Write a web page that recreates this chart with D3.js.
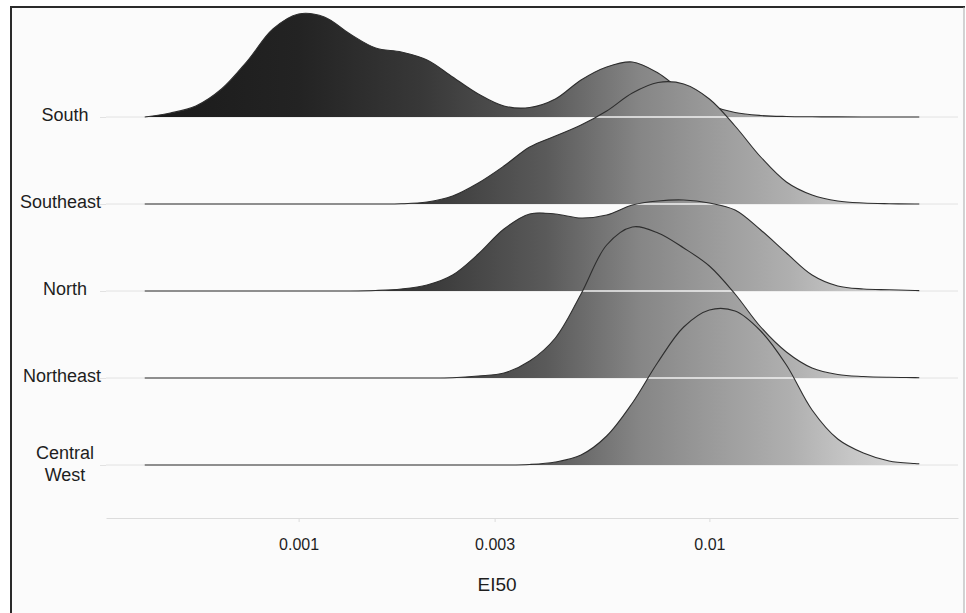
<!DOCTYPE html>
<html>
<head>
<meta charset="utf-8">
<script src="https://cdnjs.cloudflare.com/ajax/libs/d3/7.8.5/d3.min.js"></script>
<style>
	body { margin: 0; background: #ffffff; }
	text { font-family: "Liberation Sans", Arial, sans-serif; fill: #1e1e1e; }
</style>
</head>
<body>
<div id="chart-area"></div>
<script>
const WIDTH = 966
const HEIGHT = 613
const PANEL = { LEFT: 106, RIGHT: 958, BOTTOM: 518 }

// Regions, top to bottom
const regions = ["South", "Southeast", "North", "Northeast", "Central West"]

// EI50 grid the ridges are drawn on
const ei50 = [0.000422, 0.000487, 0.000562, 0.000649, 0.000750, 0.000866, 0.001000, 0.001155,
	0.001334, 0.001540, 0.001778, 0.002054, 0.002371, 0.002738, 0.003162, 0.003652,
	0.004217, 0.004870, 0.005623, 0.006494, 0.007499, 0.008660, 0.010000, 0.011548,
	0.013335, 0.015399, 0.017783, 0.020535, 0.023714, 0.027384, 0.031623, 0.032434]

// density heights (one value per ei50 point)
const south = [0, 0.04, 0.11, 0.28, 0.56, 0.88, 1.03, 1.00, 0.83, 0.69, 0.65, 0.57, 0.40, 0.23, 0.11, 0.095,
	0.18, 0.37, 0.50, 0.55, 0.44, 0.25, 0.12, 0.045, 0.015, 0.005, 0.002, 0.001, 0, 0, 0, 0]
const southeast = [0, 0, 0, 0, 0, 0, 0, 0, 0, 0, 0.002, 0.02, 0.08, 0.21, 0.38, 0.57,
	0.68, 0.79, 0.93, 1.11, 1.215, 1.20, 1.05, 0.78, 0.47, 0.22, 0.09, 0.03, 0.01, 0.003, 0, 0]
const north = [0, 0, 0, 0, 0, 0, 0, 0, 0, 0.005, 0.02, 0.06, 0.16, 0.37, 0.62, 0.77,
	0.77, 0.73, 0.76, 0.86, 0.90, 0.91, 0.88, 0.81, 0.61, 0.38, 0.16, 0.05, 0.02, 0.012, 0.005, 0.004]
const northeast = [0, 0, 0, 0, 0, 0, 0, 0, 0, 0, 0, 0, 0.003, 0.02, 0.05, 0.17,
	0.40, 0.84, 1.33, 1.51, 1.45, 1.30, 1.12, 0.84, 0.51, 0.26, 0.10, 0.035, 0.015, 0.007, 0.004, 0.003]
const centralWest = [0, 0, 0, 0, 0, 0, 0, 0, 0, 0, 0, 0, 0, 0, 0, 0.005,
	0.03, 0.10, 0.29, 0.62, 1.03, 1.38, 1.55, 1.54, 1.34, 1.00, 0.55, 0.26, 0.12, 0.04, 0.015, 0.012]
const densities = [south, southeast, north, northeast, centralWest]

const tickValues = [0.001, 0.003, 0.01]
const tickLabels = ["0.001", "0.003", "0.01"]

// Fill shade along EI50
const fillStops = [0.00042, 0.001, 0.002, 0.004, 0.0068, 0.01, 0.0157, 0.022, 0.0325]
const fillShades = ["#1a1a1a", "#232323", "#383838", "#5a5a5a", "#868686", "#9a9a9a", "#afafaf", "#c6c6c6", "#dadada"]

const svg = d3.select("#chart-area").append("svg")
	.attr("width", WIDTH)
	.attr("height", HEIGHT)

// Frame
svg.append("rect")
	.attr("x", 11).attr("y", 7)
	.attr("width", 953).attr("height", 620)
	.attr("fill", "#fbfbfb")
svg.append("line").attr("x1", 10).attr("x2", 965).attr("y1", 7).attr("y2", 7)
	.attr("stroke", "#2a2a2a").attr("stroke-width", 2)
svg.append("line").attr("x1", 11).attr("x2", 11).attr("y1", 6).attr("y2", HEIGHT)
	.attr("stroke", "#2a2a2a").attr("stroke-width", 2)
svg.append("line").attr("x1", 964).attr("x2", 964).attr("y1", 7).attr("y2", HEIGHT)
	.attr("stroke", "#a8a8a8").attr("stroke-width", 1)

// Scales
const lo = Math.log10(ei50[0])
const hi = Math.log10(ei50[ei50.length - 1])
const pad = (hi - lo) * 0.05
const x = d3.scaleLog()
	.domain([Math.pow(10, lo - pad), Math.pow(10, hi + pad)])
	.range([PANEL.LEFT, PANEL.RIGHT])
const y = d3.scalePoint()
	.domain(regions)
	.range([117, 465])
const h = d3.scaleLinear()
	.domain([0, 1])
	.range([0, 100])
const shade = d3.scaleLinear()
	.domain(fillStops)
	.range(fillShades)

// Gradient
const defs = svg.append("defs")
const x1 = x(ei50[0]), x2 = x(ei50[ei50.length - 1])
const grad = defs.append("linearGradient")
	.attr("id", "ridgeFill")
	.attr("gradientUnits", "userSpaceOnUse")
	.attr("x1", x1).attr("x2", x2).attr("y1", 0).attr("y2", 0)
grad.selectAll("stop")
	.data(fillStops)
	.enter().append("stop")
	.attr("offset", d => Math.min(1, Math.max(0, (x(d) - x1) / (x2 - x1))))
	.attr("stop-color", d => shade(d))

// Gridlines
svg.append("g").selectAll("line")
	.data(regions)
	.enter().append("line")
	.attr("x1", PANEL.LEFT).attr("x2", PANEL.RIGHT)
	.attr("y1", d => y(d)).attr("y2", d => y(d))
	.attr("stroke", "#e2e2e2")
	.attr("stroke-width", 1)

// Y Axis
const yAxis = svg.append("g")
	.attr("transform", `translate(${PANEL.LEFT}, 0)`)
	.call(d3.axisLeft(y).tickSize(6).tickPadding(0))
yAxis.select(".domain").remove()
yAxis.selectAll(".tick line").attr("stroke", "#e2e2e2")
yAxis.selectAll(".tick text").remove()
yAxis.selectAll(".tick").each(function(d) {
	const t = d3.select(this).append("text")
		.attr("x", 0)
		.attr("text-anchor", "middle")
		.attr("font-size", "18px")
		.style("fill", "#1e1e1e")
	const words = d.split(" ")
	if (words.length === 1) {
		t.attr("y", -3).attr("dy", "0.35em").text(d)
	} else {
		t.append("tspan").attr("x", 0).attr("y", -6.5).text(words[0])
		t.append("tspan").attr("x", 0).attr("y", 15.5).text(words[1])
	}
	// centred near x = 65, but kept clear of the tick
	const w = t.node().getBBox().width
	const cx = Math.min(-41, -5 - w / 2)
	t.attr("x", cx)
	t.selectAll("tspan").attr("x", cx)
})

// X Axis
const xAxis = svg.append("g")
	.attr("transform", `translate(0, ${PANEL.BOTTOM})`)
	.call(d3.axisBottom(x)
		.tickValues(tickValues)
		.tickFormat((d, i) => tickLabels[i])
		.tickSize(4)
		.tickPadding(17)
		.tickSizeOuter(0))
xAxis.select(".domain").attr("stroke", "#dcdcdc")
xAxis.selectAll(".tick line").attr("stroke", "#dcdcdc")
xAxis.selectAll(".tick text")
	.attr("font-size", "16px")
	.attr("font-family", "Liberation Sans, Arial, sans-serif")
	.style("fill", "#1e1e1e")

// X Label
svg.append("text")
	.attr("x", 497)
	.attr("y", 591)
	.attr("text-anchor", "middle")
	.attr("font-size", "19px")
	.text("EI50")

// Ridges
const ridges = svg.append("g")
regions.forEach((region, i) => {
	const base = y(region)
	const pts = ei50.map((v, k) => ({ x: v, d: densities[i][k] }))
	const area = d3.area()
		.curve(d3.curveCatmullRom.alpha(0.5))
		.x(p => x(p.x))
		.y0(base)
		.y1(p => base - h(p.d))
	const line = d3.line()
		.curve(d3.curveCatmullRom.alpha(0.5))
		.x(p => x(p.x))
		.y(p => base - h(p.d))

	defs.append("clipPath")
		.attr("id", "clip-" + i)
		.append("path")
		.attr("d", area(pts))

	ridges.append("path")
		.attr("d", area(pts))
		.attr("fill", "url(#ridgeFill)")

	// pale seam where this ridge passes over the rows above it
	regions.slice(0, i).forEach(above => {
		ridges.append("line")
			.attr("x1", PANEL.LEFT).attr("x2", PANEL.RIGHT)
			.attr("y1", y(above)).attr("y2", y(above))
			.attr("stroke", "#f2f2f2")
			.attr("stroke-width", 1.4)
			.attr("clip-path", `url(#clip-${i})`)
	})

	ridges.append("path")
		.attr("d", line(pts))
		.attr("fill", "none")
		.attr("stroke", "#2e2e2e")
		.attr("stroke-width", 1.1)
})
</script>
</body>
</html>
